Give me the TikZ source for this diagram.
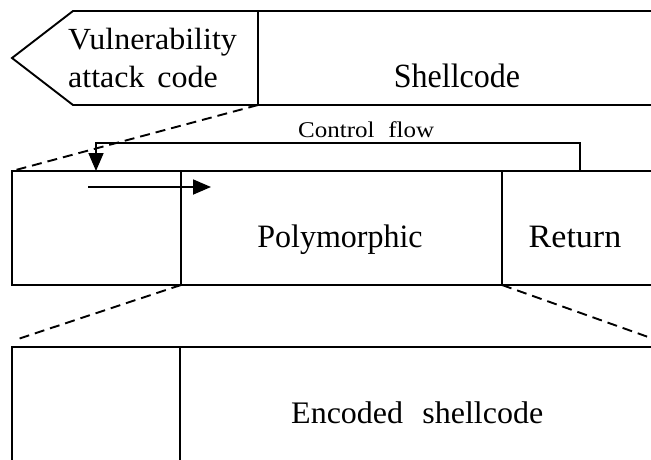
\documentclass[tikz,border=0pt]{standalone}
\usepackage{fontspec}
\setmainfont{Liberation Serif}
\usetikzlibrary{arrows.meta}
\newcommand{\vstretch}[2]{\scalebox{1}[#1]{#2}}
\begin{document}
\begin{tikzpicture}[x=1pt,y=-1pt,
  box/.style={line width=1.9pt, line join=miter},
  dashln/.style={line width=1.9pt, dash pattern=on 10pt off 6pt},
  big/.style={font=\fontsize{32}{38}\selectfont, inner sep=0pt},
  small/.style={font=\fontsize{25}{30}\selectfont, inner sep=0pt},
  flow/.style={line width=1.8pt, -{Triangle[length=18pt,width=15pt]}}]
\useasboundingbox (0,0) rectangle (651,459);
% top row
\coordinate (tA) at (73,11);
\coordinate (tTip) at (12,58);
\coordinate (tB) at (73,105);
\coordinate (tDt) at (258,11);
\coordinate (tDb) at (258,105);
\coordinate (tRt) at (651,11);
\coordinate (tRb) at (651,105);
\draw[box] (tRt) -- (tA) -- (tTip) -- (tB) -- (tRb);
\draw[box] (tDt) -- (tDb);
\node[big, anchor=base west] (vul1) at (68,49) {\vstretch{0.96}{Vulnerability}};
\node[big, anchor=base west] (vul2) at (68,87) {\vstretch{0.96}{attack\hspace{0.4em}code}};
\node[big, anchor=base] (shell) at (457,87) {\vstretch{1.06}{Shellcode}};
% middle row
\coordinate (mTL) at (12,171);
\coordinate (mBL) at (12,285);
\coordinate (mTR) at (651,171);
\coordinate (mBR) at (651,285);
\coordinate (mD1t) at (181,171);
\coordinate (mD1b) at (181,285);
\coordinate (mD2t) at (502,171);
\coordinate (mD2b) at (502,285);
\draw[box] (mTR) -- (mTL) -- (mBL) -- (mBR);
\draw[box] (mD1t) -- (mD1b);
\draw[box] (mD2t) -- (mD2b);
\node[big, anchor=base] (poly) at (340,247) {\vstretch{1.02}{Polymorphic}};
\node[big, anchor=base, font=\fontsize{34}{40}\selectfont] (ret) at (575,247) {\vstretch{0.96}{Return}};
% control flow
\coordinate (cfS) at (580,171);
\coordinate (cfR) at (580,143);
\coordinate (cfL) at (96,143);
\coordinate (cfE) at (96,171);
\draw[flow] (cfS) -- (cfR) -- (cfL) -- (cfE);
\node[small, anchor=base west] (cf) at (298,137) {\vstretch{0.9}{Control\hspace{0.55em}flow}};
\coordinate (inS) at (88,187);
\coordinate (inE) at (211,187);
\draw[flow] (inS) -- (inE);
% bottom row
\coordinate (bTL) at (12,347);
\coordinate (bBL) at (12,462);
\coordinate (bTR) at (651,347);
\coordinate (bDt) at (180,347);
\coordinate (bDb) at (180,462);
\draw[box] (bTR) -- (bTL) -- (bBL);
\draw[box] (bDt) -- (bDb);
\node[big, anchor=base west] (enc) at (291,423) {\vstretch{0.98}{Encoded\hspace{0.6em}shellcode}};
% dashed zoom lines
\coordinate (dL) at (18,339);
\coordinate (dR) at (651,338);
\draw[dashln] (tDb) -- (mTL);
\draw[dashln] (mD1b) -- (dL);
\draw[dashln] (mD2b) -- (dR);
\end{tikzpicture}
\end{document}
